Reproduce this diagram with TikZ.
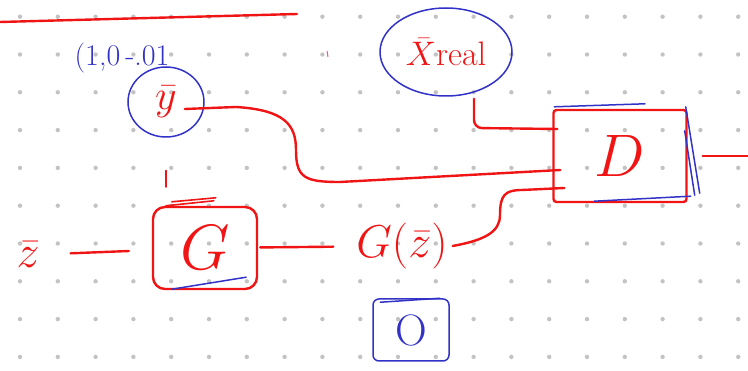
\RequirePackage{fix-cm}
\documentclass[tikz,border=0pt]{standalone}
\usetikzlibrary{shapes.geometric, calc}
\definecolor{inkred}{RGB}{240,20,20}
\definecolor{inkblue}{RGB}{50,50,200}
\definecolor{dotgray}{RGB}{195,195,195}
\tikzset{
  ink/.style    = {draw=inkred, line width=2.4pt, line cap=round, line join=round},
  pen/.style    = {draw=inkblue, line width=1.5pt, line cap=round},
  oval/.style   = {ellipse, pen, inner sep=0pt, text=inkred},
  inkbox/.style = {rectangle, ink, rounded corners=12pt, inner sep=0pt, text=inkred},
  word/.style   = {text=inkred, inner sep=1pt},
}
\newcommand{\hand}[1]{\fontsize{#1}{#1}\selectfont}

\begin{document}
\begin{tikzpicture}[x=1pt, y=-1pt]
  \useasboundingbox (0,0) rectangle (748,371);
  % dotted paper
  \foreach \i in {0,...,19}
    \foreach \j in {0,...,9}
      \fill[dotgray] (20+37.8*\i, 16.7+37.8*\j) circle (2.2pt);
  % heading rule
  \draw[ink] (0,22) -- (297,14);
  \draw[magenta!70, line width=1pt] (327,51) -- (328,57);

  % nodes
  \node[oval, minimum width=76pt, minimum height=70pt, font=\hand{42}] (ybar) at (166,102) {$\bar{y}$};
  \node[text=inkblue, font=\hand{30}] (onehot) at (122,58) {(1,0\,-.01};
  \node[oval, minimum width=132pt, minimum height=88pt, font=\hand{34}] (xreal) at (446,52) {$\bar{X}$real};
  \node[word, font=\hand{46}] (z) at (28,255) {$\bar{z}$};
  \node[inkbox, minimum width=104pt, minimum height=82pt, font=\hand{64}] (gbox) at (205,248) {$G$};
  \node[word, font=\hand{46}] (gz) at (402,246) {$G(\bar{z})$};
  \node[inkbox, rounded corners=3pt, minimum width=133pt, minimum height=92pt, font=\hand{60}] (dbox) at (620,156) {$D$};
  \node[rectangle, pen, rounded corners=6pt, minimum width=76pt, minimum height=62pt,
        text=inkblue, font=\hand{44}] (zero) at (411,330) {O};
  \coordinate (out) at (748,156);

  % connectors
  \draw[ink, shorten <=30pt, shorten >=23pt] (z) -- (gbox);
  \draw[ink, shorten <=2pt, shorten >=22pt] (gbox) -- (gz);
  \draw[ink, shorten <=33pt, shorten >=19pt] (ybar) -- (ybar |- gbox.north);
  \draw[ink] ($(ybar.east)+(-20,7)$) -- (236,107)
    .. controls (285,110) and (296,125) .. (296,150)
    .. controls (296,178) and (305,182) .. (340,182) -- ($(dbox.west)+(8,14)$);
  \draw[ink, rounded corners=8pt] ($(xreal.south)+(28,2)$) -- (474,128) -- ($(dbox.west)+(5,-27)$);
  \draw[ink] ($(gz.east)+(4,0)$) .. controls (485,240) and (500,232) .. (500,215)
    .. controls (500,195) and (505,190) .. (522,190) -- ($(dbox.west)+(12,32)$);
  \draw[ink, shorten <=15pt] (dbox) -- (out);

  % pen marks on the boxes
  \draw[ink, line width=1.6pt] ($(gbox.north west)+(20,-4)$) -- ++(44,-4);
  \draw[ink, line width=1.6pt] ($(gbox.north west)+(14,0)$) -- ++(48,-5);
  \draw[pen] ($(gbox.south west)+(20,-1)$) -- ($(gbox.south east)+(-12,-13)$);
  \draw[pen] ($(dbox.north west)+(2,-2)$) -- ($(dbox.north)+(25,-5)$);
  \draw[pen] ($(dbox.north east)+(-2,-2)$) -- ($(dbox.south east)+(12,-10)$);
  \draw[pen] ($(dbox.north east)+(-3,22)$) -- ($(dbox.south east)+(7,-8)$);
  \draw[pen] ($(dbox.south west)+(42,-2)$) -- ($(dbox.south east)+(3,-7)$);
  \draw[pen] ($(zero.north west)+(8,4)$) -- ($(zero.north east)+(-10,0)$);
\end{tikzpicture}
\end{document}
